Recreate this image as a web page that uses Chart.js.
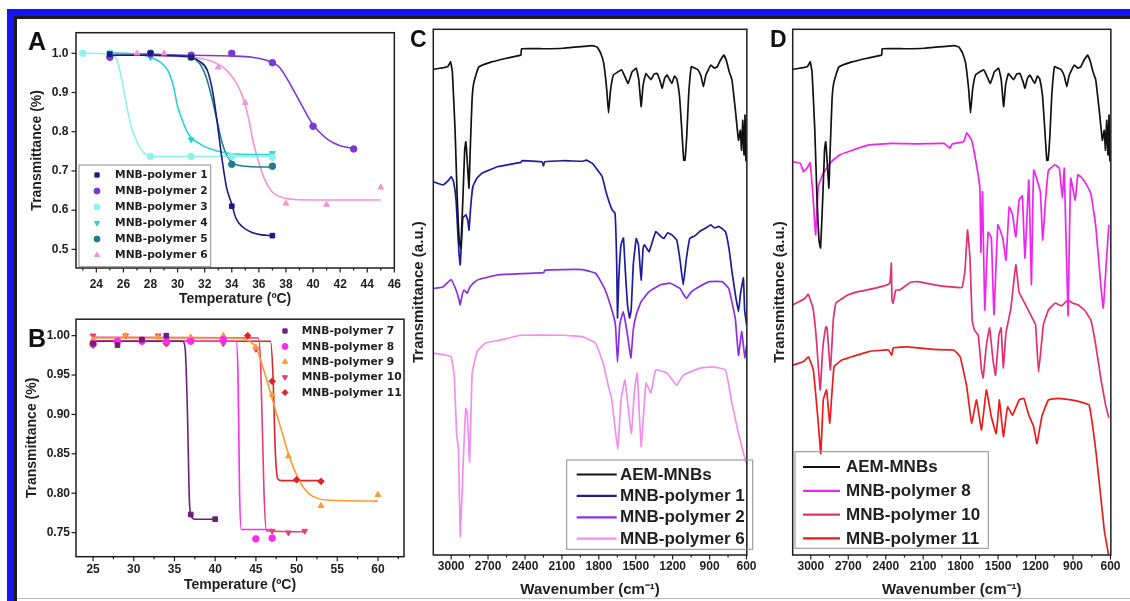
<!DOCTYPE html>
<html>
<head>
<meta charset="utf-8">
<script src="https://cdn.jsdelivr.net/npm/chart.js"></script>
<style>
  html, body { margin: 0; padding: 0; background: #fff; }
  body { width: 1130px; height: 601px; position: relative; overflow: hidden; font-family: "Liberation Sans", Arial, sans-serif; }
  .blue { position: absolute; left: 7px; top: 9px; width: 1140px; height: 610px; border-left: 7px solid #1616f5; border-top: 7px solid #1616f5; }
  .inner { position: absolute; left: 14px; top: 16px; width: 1130px; height: 600px; border-left: 3px solid #1c1c1c; border-top: 3px solid #1c1c1c; }
  .base { position: absolute; left: 17px; top: 598px; width: 1113px; height: 1px; background: #bbb; }
  canvas { position: absolute; }
  .tag { position: absolute; font: bold 25px "Liberation Sans", Arial, sans-serif; color: #111; line-height: 25px; }
</style>
</head>
<body>
<div class="blue"></div>
<div class="inner"></div>
<div class="base"></div>
<canvas id="chartA" width="395" height="292" style="left:15px;top:18px"></canvas>
<canvas id="chartB" width="395" height="295" style="left:15px;top:306px"></canvas>
<canvas id="chartC" width="356" height="581" style="left:405px;top:20px"></canvas>
<canvas id="chartD" width="361" height="581" style="left:764px;top:20px"></canvas>
<div class="tag" style="left:28px;top:29px">A</div>
<div class="tag" style="left:28px;top:326px">B</div>
<div class="tag" style="left:410px;top:27px;font-size:23px">C</div>
<div class="tag" style="left:770px;top:27px;font-size:23px">D</div>
<script>
// ---- panel A : LCST curves, polymers 1-6 ----
const p1T = [25, 28, 31, 34, 37];
const p1Y = [0.998, 1.0, 0.99, 0.61, 0.535];
const p2T = [25, 28, 31, 34, 37, 40, 43];
const p2Y = [0.99, 0.998, 0.995, 1.0, 0.976, 0.814, 0.756];
const p3T = [23, 25, 28, 31, 34, 37];
const p3Y = [1.0, 1.0, 0.737, 0.737, 0.737, 0.735];
const p4T = [25, 28, 31, 34, 37];
const p4Y = [1.0, 0.99, 0.78, 0.74, 0.745];
const p5T = [25, 28, 31, 34, 37];
const p5Y = [1.0, 1.0, 0.99, 0.717, 0.712];
const p6T = [27, 29, 31, 33, 35, 38, 41, 45];
const p6Y = [1.0, 1.0, 0.99, 0.964, 0.874, 0.617, 0.614, 0.658];

// fitted curves
const f1T = [25, 28, 30, 31, 31.6, 32.2, 32.6, 32.9, 33.2, 33.6, 34, 34.3, 34.8, 35.5, 36.2, 37];
const f1Y = [0.995, 0.995, 0.993, 0.99, 0.98, 0.956, 0.9, 0.83, 0.75, 0.66, 0.615, 0.58, 0.557, 0.543, 0.537, 0.535];
const f2T = [25, 30, 34, 35.5, 36.5, 37, 37.5, 38, 38.7, 39.2, 39.6, 40, 40.5, 41.1, 42, 43];
const f2Y = [0.995, 0.995, 0.993, 0.99, 0.983, 0.976, 0.965, 0.94, 0.897, 0.865, 0.84, 0.818, 0.798, 0.78, 0.764, 0.757];
const f3T = [23, 25, 25.5, 25.9, 26.3, 26.65, 27, 27.4, 27.8, 28.5, 30, 37];
const f3Y = [1.0, 0.998, 0.985, 0.93, 0.855, 0.805, 0.775, 0.75, 0.74, 0.737, 0.737, 0.737];
const f4T = [25, 27, 28, 28.7, 29.3, 29.7, 30, 30.4, 30.7, 31, 31.5, 32, 33, 34, 35, 37];
const f4Y = [1.0, 0.998, 0.99, 0.978, 0.955, 0.915, 0.865, 0.825, 0.8, 0.785, 0.772, 0.762, 0.75, 0.744, 0.742, 0.742];
const f5T = [25, 28, 30, 31, 31.6, 32.1, 32.5, 32.9, 33.3, 33.7, 34.2, 35, 36, 37];
const f5Y = [1.0, 0.998, 0.995, 0.99, 0.975, 0.94, 0.89, 0.83, 0.77, 0.735, 0.718, 0.712, 0.71, 0.71];
const f6T = [27, 29, 31, 32.5, 33.3, 33.9, 34.4, 34.8, 35.2, 35.6, 36, 36.3, 36.7, 37.2, 38, 38.7, 40, 45];
const f6Y = [0.995, 0.993, 0.99, 0.98, 0.966, 0.946, 0.92, 0.89, 0.84, 0.772, 0.72, 0.69, 0.66, 0.64, 0.63, 0.627, 0.626, 0.626];

// ---- panel B : polymers 7-11 ----
const p7T = [25, 28, 31, 34, 37, 40];
const p7Y = [0.99, 0.988, 0.995, 1.0, 0.773, 0.767];
const p8T = [25, 28, 31, 34, 37, 41, 45, 47];
const p8Y = [0.99, 0.993, 0.993, 0.993, 0.993, 0.995, 0.742, 0.743];
const p9T = [25, 29, 33, 37, 41, 45, 47, 49, 53, 60];
const p9Y = [0.995, 1.0, 0.998, 0.998, 1.0, 0.985, 0.925, 0.847, 0.784, 0.798];
const p10T = [25, 29, 33, 37, 41, 45, 47, 49, 51];
const p10Y = [1.0, 1.0, 1.0, 0.995, 0.99, 0.983, 0.752, 0.75, 0.752];
const p11T = [25, 31, 34, 37, 41, 44, 47, 50, 53];
const p11Y = [0.988, 0.993, 0.99, 0.995, 0.993, 1.0, 0.942, 0.817, 0.815];

const f7T = [25, 36, 36.3, 36.6, 36.8, 37, 37.5, 40];
const f7Y = [0.993, 0.993, 0.985, 0.9, 0.8, 0.772, 0.767, 0.767];
const f8T = [25, 42.6, 42.8, 43, 43.2, 47];
const f8Y = [0.993, 0.993, 0.95, 0.8, 0.754, 0.754];
const f9T = [25, 42, 44, 45, 46, 47, 48, 49, 50, 51, 52, 54, 60];
const f9Y = [0.997, 0.997, 0.994, 0.985, 0.955, 0.92, 0.885, 0.85, 0.823, 0.805, 0.796, 0.791, 0.79];
const f10T = [25, 45.3, 45.6, 46, 46.3, 51];
const f10Y = [0.998, 0.997, 0.96, 0.8, 0.752, 0.751];
const f11T = [25, 46.8, 47.1, 47.4, 47.7, 48.2, 53];
const f11Y = [0.993, 0.993, 0.95, 0.85, 0.818, 0.816, 0.816];

const tempTicksA = [24, 26, 28, 30, 32, 34, 36, 38, 40, 42, 44, 46];
const tempMinorA = [23, 25, 27, 29, 31, 33, 35, 37, 39, 41, 43, 45];
const transTicksA = [0.5, 0.6, 0.7, 0.8, 0.9, 1.0];
const tempTicksB = [25, 30, 35, 40, 45, 50, 55, 60];
const tempMinorB = [27.5, 32.5, 37.5, 42.5, 47.5, 52.5, 57.5, 62.5];
const transTicksB = [0.75, 0.8, 0.85, 0.9, 0.95, 1.0];
const wnTicks = [3000, 2700, 2400, 2100, 1800, 1500, 1200, 900, 600];
const wnMinor = [3150, 2850, 2550, 2250, 1950, 1650, 1350, 1050, 750];

// ---- FTIR spectra (wavenumber, transmittance a.u.) ----
const aemWn = [3145, 3060, 3027, 3005, 2990, 2968, 2950, 2935, 2922, 2905, 2890, 2881, 2872, 2855, 2845, 2830, 2816, 2776, 2671, 2550, 2433, 2428, 2250, 2090, 1852, 1813, 1785, 1760, 1735, 1721, 1705, 1681, 1615, 1590, 1562, 1530, 1496, 1475, 1456, 1440, 1417, 1377, 1350, 1325, 1300, 1285, 1265, 1246, 1206, 1185, 1167, 1145, 1128, 1110, 1100, 1085, 1070, 1048, 1020, 995, 970, 950, 930, 890, 860, 837, 810, 784, 760, 740, 718, 690, 665, 650, 640, 630, 620, 612, 605, 598];
const aemT = [92.4, 92.7, 92.9, 93.8, 91.9, 80.8, 67.5, 59.9, 58.4, 67.5, 77.0, 78.6, 76.1, 69.8, 77.0, 86.6, 89.8, 92.8, 93.8, 94.5, 95.1, 96.3, 96.3, 96.4, 96.9, 96.6, 95.5, 93.5, 88.4, 84.1, 88.4, 91.3, 92.3, 91.1, 89.7, 91.9, 92.6, 90.4, 85.3, 89.4, 91.6, 90.4, 91.5, 91.6, 90.0, 88.8, 90.7, 91.3, 89.7, 91.1, 90.6, 87.5, 81.7, 75.1, 75.1, 79.9, 87.5, 92.9, 92.6, 92.3, 91.1, 89.1, 91.3, 93.2, 92.6, 92.9, 94.2, 95.1, 93.8, 91.9, 90.4, 84.6, 78.9, 80.8, 77.0, 82.7, 76.1, 83.7, 75.1, 74.8];

const mp1Wn = [3145, 3066, 3020, 3000, 2980, 2960, 2945, 2935, 2926, 2915, 2905, 2895, 2880, 2865, 2855, 2840, 2823, 2790, 2750, 2618, 2433, 2425, 2260, 2250, 2240, 2090, 1931, 1900, 1852, 1810, 1773, 1745, 1721, 1690, 1668, 1655, 1648, 1638, 1620, 1600, 1585, 1567, 1550, 1537, 1520, 1496, 1478, 1456, 1440, 1430, 1391, 1338, 1300, 1272, 1240, 1206, 1167, 1140, 1114, 1090, 1061, 1020, 982, 930, 890, 860, 823, 771, 740, 718, 690, 665, 650, 625, 615, 599];
const mp1T = [71.0, 70.4, 71.3, 72.0, 71.0, 67.5, 60.9, 57.1, 55.2, 59.9, 64.1, 64.4, 64.7, 63.7, 61.8, 66.6, 70.1, 71.7, 72.6, 73.9, 74.7, 75.0, 74.8, 74.0, 74.8, 75.0, 74.9, 75.1, 74.5, 73.2, 72.0, 69.4, 67.5, 65.6, 65.0, 56.0, 45.1, 52.3, 59.0, 60.3, 54.2, 47.6, 45.1, 46.6, 55.2, 60.2, 59.0, 52.3, 58.4, 59.0, 57.7, 61.5, 60.7, 60.2, 61.3, 60.9, 59.9, 56.1, 51.4, 56.1, 60.2, 60.7, 61.5, 62.2, 62.8, 62.2, 62.5, 61.5, 58.0, 53.9, 49.5, 46.3, 49.5, 52.7, 46.6, 43.8];

const mp2Wn = [3145, 3066, 3000, 2960, 2940, 2926, 2910, 2895, 2869, 2847, 2810, 2776, 2618, 2248, 2238, 2090, 1931, 1880, 1826, 1790, 1748, 1694, 1665, 1648, 1630, 1602, 1580, 1555, 1539, 1520, 1496, 1456, 1391, 1298, 1219, 1140, 1110, 1088, 1050, 1009, 903, 798, 744, 691, 665, 639, 625, 613, 599];
const mp2T = [50.7, 51.0, 52.4, 50.4, 48.9, 47.6, 49.5, 50.4, 49.8, 51.0, 51.9, 52.4, 53.3, 53.7, 54.2, 54.3, 54.3, 54.0, 53.6, 52.3, 50.4, 46.6, 43.8, 36.7, 43.8, 46.3, 43.8, 39.9, 37.5, 42.8, 45.7, 48.2, 50.1, 51.4, 51.7, 50.7, 49.5, 48.8, 50.0, 50.7, 52.0, 52.0, 50.7, 45.0, 38.0, 42.5, 39.9, 37.4, 39.9];

const mp6Wn = [3145, 3040, 3000, 2974, 2956, 2940, 2926, 2900, 2881, 2869, 2850, 2829, 2789, 2723, 2618, 2433, 2090, 1931, 1826, 1760, 1721, 1694, 1646, 1620, 1588, 1536, 1510, 1488, 1456, 1417, 1377, 1338, 1246, 1167, 1114, 982, 877, 771, 718, 665, 617, 599];
const mp6T = [38.4, 38.0, 37.7, 33.9, 23.1, 20.0, 3.5, 18.7, 27.9, 27.0, 17.7, 34.6, 38.7, 40.3, 40.8, 41.8, 41.8, 41.5, 40.3, 36.1, 32.0, 29.5, 20.0, 29.5, 33.3, 23.1, 31.4, 34.6, 20.6, 32.7, 30.8, 35.2, 34.6, 32.3, 34.2, 35.5, 35.8, 35.2, 28.9, 23.1, 18.7, 17.4];

const mp8Wn = [3141, 3084, 3058, 3030, 3005, 2980, 2961, 2940, 2901, 2835, 2770, 2666, 2535, 2352, 2143, 1933, 1886, 1868, 1777, 1751, 1712, 1673, 1646, 1638, 1625, 1607, 1580, 1554, 1533, 1502, 1463, 1437, 1411, 1384, 1358, 1332, 1306, 1285, 1254, 1233, 1215, 1162, 1143, 1120, 1097, 1044, 1010, 985, 970, 940, 919, 882, 862, 835, 796, 757, 718, 678, 658, 631, 613];
const mp8T = [74.8, 74.5, 72.9, 73.6, 74.6, 67.5, 60.9, 70.1, 72.6, 74.8, 76.1, 77.0, 78.0, 78.3, 78.2, 78.3, 77.4, 78.2, 78.6, 80.3, 78.9, 74.2, 69.8, 57.6, 69.1, 46.6, 61.4, 60.3, 45.7, 62.8, 60.3, 56.1, 66.2, 64.7, 60.5, 67.5, 68.3, 56.5, 71.3, 51.4, 73.2, 69.1, 59.9, 67.5, 73.2, 74.2, 73.6, 67.9, 73.6, 45.5, 71.7, 67.5, 72.3, 71.9, 70.6, 68.7, 62.6, 51.4, 47.0, 56.5, 62.8];

const mp10Wn = [3141, 3047, 3021, 2982, 2955, 2925, 2905, 2880, 2870, 2843, 2820, 2799, 2700, 2600, 2472, 2368, 2355, 2350, 2341, 2320, 2289, 2200, 2143, 2012, 1882, 1790, 1765, 1745, 1725, 1708, 1690, 1659, 1633, 1620, 1594, 1568, 1541, 1521, 1494, 1476, 1458, 1437, 1398, 1358, 1332, 1280, 1227, 1200, 1176, 1137, 1097, 1044, 992, 940, 901, 862, 809, 757, 718, 678, 639, 613];
const mp10T = [47.6, 48.8, 49.6, 46.9, 40.9, 31.4, 39.0, 43.4, 43.2, 35.2, 44.7, 47.9, 49.5, 50.2, 50.8, 51.7, 55.5, 48.5, 47.9, 50.4, 50.4, 51.9, 52.0, 51.4, 51.0, 50.9, 54.2, 61.8, 56.5, 44.7, 42.8, 41.8, 35.2, 33.7, 39.9, 43.2, 37.1, 34.2, 41.8, 43.2, 35.6, 42.2, 46.9, 55.2, 50.0, 47.6, 45.1, 43.8, 34.8, 43.8, 46.6, 47.9, 47.4, 48.5, 47.9, 47.6, 46.6, 44.7, 39.9, 33.7, 28.5, 26.1];

const mp11Wn = [3141, 3058, 3019, 2980, 2940, 2920, 2900, 2874, 2848, 2814, 2750, 2535, 2378, 2352, 2340, 2220, 2012, 1856, 1804, 1751, 1712, 1673, 1633, 1594, 1554, 1515, 1489, 1458, 1424, 1385, 1332, 1294, 1254, 1215, 1189, 1150, 1097, 1020, 914, 809, 770, 718, 678, 650, 615];
const mp11T = [36.1, 36.8, 37.7, 35.2, 25.1, 19.3, 29.5, 31.4, 25.1, 35.8, 37.1, 38.7, 39.0, 38.0, 39.4, 39.6, 39.1, 39.0, 37.7, 32.0, 25.1, 29.5, 23.8, 31.4, 26.3, 23.1, 29.5, 22.5, 28.2, 26.6, 29.5, 29.8, 26.6, 24.4, 21.2, 26.3, 29.5, 29.8, 29.5, 28.9, 28.5, 20.0, 11.1, 4.8, 0];

const pts = (xs, ys) => xs.map((x, i) => ({ x: x, y: ys[i] }));

const tickFont = { family: '"Liberation Sans", Arial, sans-serif', size: 12, weight: 'bold' };
const titleFont = { family: '"Liberation Sans", Arial, sans-serif', size: 14, weight: 'bold' };
const specFont = { family: '"Liberation Sans", Arial, sans-serif', size: 15, weight: 'bold' };
const ink = '#1e1e1e';

// frame + outward ticks (major and minor)
const boxTicks = {
  id: 'boxTicks',
  afterDraw(chart, args, o) {
    const { ctx, chartArea: a, scales } = chart;
    ctx.save();
    ctx.strokeStyle = ink;
    ctx.lineWidth = 1.5;
    ctx.strokeRect(a.left, a.top, a.right - a.left, a.bottom - a.top);
    ctx.lineWidth = 1.2;
    const xt = (vals, len) => (vals || []).forEach(v => {
      const x = scales.x.getPixelForValue(v);
      if (x < a.left - 0.5 || x > a.right + 0.5) return;
      ctx.beginPath(); ctx.moveTo(x, a.bottom); ctx.lineTo(x, a.bottom + len); ctx.stroke();
    });
    const yt = (vals, len) => (vals || []).forEach(v => {
      const y = scales.y.getPixelForValue(v);
      ctx.beginPath(); ctx.moveTo(a.left, y); ctx.lineTo(a.left - len, y); ctx.stroke();
    });
    xt(o.xMajor, 4.5); xt(o.xMinor, 2.5);
    yt(o.yMajor, 4.5);
    ctx.restore();
  }
};

// legend drawn at a fixed spot, items taken from the datasets
const keyBox = {
  id: 'keyBox',
  afterDraw(chart, args, o) {
    if (!o.rows) return;
    const ctx = chart.ctx;
    const dx = chart.canvas.offsetLeft, dy = chart.canvas.offsetTop;
    ctx.save();
    if (o.box) {
      ctx.strokeStyle = '#8c8c8c'; ctx.lineWidth = 1;
      ctx.strokeRect(o.box[0] - dx, o.box[1] - dy, o.box[2] - o.box[0], o.box[3] - o.box[1]);
    }
    ctx.font = o.font;
    ctx.textBaseline = 'middle';
    o.rows.forEach((di, i) => {
      const ds = chart.data.datasets[di];
      const y = o.y + i * o.dy - dy;
      if (o.line) {
        ctx.strokeStyle = ds.borderColor; ctx.lineWidth = 2.2;
        ctx.beginPath(); ctx.moveTo(o.x0 - dx, y); ctx.lineTo(o.x1 - dx, y); ctx.stroke();
      } else {
        ctx.fillStyle = ds.backgroundColor; ctx.strokeStyle = ds.backgroundColor;
        Chart.helpers.drawPoint(ctx, { pointStyle: ds.pointStyle, rotation: ds.pointRotation || 0, radius: 3, borderWidth: 1 }, o.x0 - dx, y);
      }
      ctx.fillStyle = '#1e1e1e';
      ctx.fillText(ds.label, o.tx - dx, y + 0.5);
    });
    ctx.restore();
  }
};
Chart.register(boxTicks, keyBox);

function marks(label, xs, ys, color, style, rot) {
  return { label: label, data: pts(xs, ys), showLine: false, pointStyle: style, pointRotation: rot || 0,
    pointRadius: 3.3, backgroundColor: color, borderColor: color, borderWidth: 1 };
}
function fit(xs, ys, color) {
  return { data: pts(xs, ys), showLine: true, pointRadius: 0, borderColor: color, borderWidth: 1.6,
    cubicInterpolationMode: 'monotone', fill: false };
}
function spec(label, xs, ys, color) {
  return { label: label, data: pts(xs, ys), showLine: true, pointRadius: 0, borderColor: color,
    backgroundColor: color, borderWidth: 1.7, tension: 0.1, fill: false };
}

function baseOptions(cfg) {
  return {
    responsive: false, animation: false, events: [],
    layout: { padding: { left: 0, top: cfg.top, right: cfg.right, bottom: 0 } },
    plugins: { legend: { display: false }, tooltip: { enabled: false }, boxTicks: cfg.ticks, keyBox: cfg.key },
    scales: {
      x: {
        type: 'linear', min: cfg.xMin, max: cfg.xMax, reverse: !!cfg.reverse,
        afterBuildTicks: s => { s.ticks = cfg.xTicks.map(v => ({ value: v })); },
        afterFit: s => { s.height = cfg.xH; },
        grid: { display: false, drawTicks: false }, border: { display: false },
        ticks: { font: cfg.tickFont || tickFont, color: ink, padding: cfg.xPad, maxRotation: 0, autoSkip: false,
          callback: v => String(v) },
        title: { display: true, text: cfg.xTitle, font: cfg.titleFont || titleFont, color: ink, padding: { top: 0, bottom: cfg.xTitlePad } }
      },
      y: {
        type: 'linear', min: cfg.yMin, max: cfg.yMax,
        afterBuildTicks: s => { s.ticks = (cfg.yTicks || []).map(v => ({ value: v })); },
        afterFit: s => { s.width = cfg.yW; },
        grid: { display: false, drawTicks: false }, border: { display: false },
        ticks: { display: !!cfg.yTicks, font: tickFont, color: ink, padding: cfg.yPad,
          callback: v => v.toFixed(cfg.yDec || 0) },
        title: { display: true, text: cfg.yTitle, font: cfg.titleFont || titleFont, color: ink, padding: { top: cfg.yTitlePad, bottom: 0 } }
      }
    }
  };
}

const cA = ['#1b1b84', '#7b38d4', '#8cf2ec', '#27d2d6', '#1f7d8e', '#f494cc'];
new Chart(document.getElementById('chartA'), {
  type: 'scatter',
  data: {
    datasets: [
      marks('MNB-polymer 1', p1T, p1Y, cA[0], 'rect'),
      marks('MNB-polymer 2', p2T, p2Y, cA[1], 'circle'),
      marks('MNB-polymer 3', p3T, p3Y, cA[2], 'circle'),
      marks('MNB-polymer 4', p4T, p4Y, cA[3], 'triangle', 180),
      marks('MNB-polymer 5', p5T, p5Y, cA[4], 'circle'),
      marks('MNB-polymer 6', p6T, p6Y, cA[5], 'triangle'),
      fit(f1T, f1Y, cA[0]), fit(f2T, f2Y, cA[1]), fit(f3T, f3Y, cA[2]),
      fit(f4T, f4Y, cA[3]), fit(f5T, f5Y, cA[4]), fit(f6T, f6Y, cA[5])
    ]
  },
  options: baseOptions({
    top: 10, right: 7.3, xH: 42, yW: 61, xMin: 22.5, xMax: 46, yMin: 0.4525, yMax: 1.0525,
    xTicks: tempTicksA, yTicks: transTicksA, yDec: 1, xPad: 9, yPad: 7.5,
    xTitle: 'Temperature (ºC)', yTitle: 'Transmittance (%)', xTitlePad: 2.5, yTitlePad: 13.3,
    ticks: { xMajor: tempTicksA, xMinor: tempMinorA, yMajor: transTicksA },
    key: { rows: [0, 1, 2, 3, 4, 5], box: [79, 165, 210.7, 266.7], x0: 97, tx: 115, y: 175, dy: 16,
      font: 'bold 10.7px "DejaVu Sans", sans-serif' }
  })
});

const cB = ['#6c1f78', '#fb2cf0', '#ff9a2e', '#ea3c7c', '#e4222a'];
new Chart(document.getElementById('chartB'), {
  type: 'scatter',
  data: {
    datasets: [
      marks('MNB-polymer 7', p7T, p7Y, cB[0], 'rect'),
      marks('MNB-polymer 8', p8T, p8Y, cB[1], 'circle'),
      marks('MNB-polymer 9', p9T, p9Y, cB[2], 'triangle'),
      marks('MNB-polymer 10', p10T, p10Y, cB[3], 'triangle', 180),
      marks('MNB-polymer 11', p11T, p11Y, cB[4], 'rectRot'),
      fit(f7T, f7Y, cB[0]), fit(f8T, f8Y, cB[1]), fit(f9T, f9Y, cB[2]),
      fit(f10T, f10Y, cB[3]), fit(f11T, f11Y, cB[4])
    ]
  },
  options: baseOptions({
    top: 10, right: 6, xH: 44.3, yW: 61, xMin: 22.9, xMax: 63.2, yMin: 0.7194, yMax: 1.0209,
    xTicks: tempTicksB, yTicks: transTicksB, yDec: 2, xPad: 6, yPad: 6,
    xTitle: 'Temperature (ºC)', yTitle: 'Transmittance (%)', xTitlePad: 7.6, yTitlePad: 8.3,
    ticks: { xMajor: tempTicksB, xMinor: tempMinorB, yMajor: transTicksB },
    key: { rows: [0, 1, 2, 3, 4], x0: 285, tx: 301.7, y: 331, dy: 15.4,
      font: 'bold 10.7px "DejaVu Sans", sans-serif' }
  })
});

const specOpts = (yW, right, yTitlePad, key) => baseOptions({
  top: 9.3, right: right, xH: 46, yW: yW, xMin: 597, xMax: 3145, reverse: true, yMin: 0, yMax: 100,
  xTicks: wnTicks, xPad: 4.5, xTitle: 'Wavenumber (cm⁻¹)', yTitle: 'Transmittance (a.u.)',
  xTitlePad: 2, yTitlePad: yTitlePad, titleFont: specFont,
  ticks: { xMajor: wnTicks, xMinor: wnMinor }, key: key
});

new Chart(document.getElementById('chartC'), {
  type: 'scatter',
  data: {
    datasets: [
      spec('AEM-MNBs', aemWn, aemT, '#111111'),
      spec('MNB-polymer 1', mp1Wn, mp1T, '#1c1c9c'),
      spec('MNB-polymer 2', mp2Wn, mp2T, '#8a2fe6'),
      spec('MNB-polymer 6', mp6Wn, mp6T, '#f28ef0')
    ]
  },
  options: specOpts(28.3, 5, 5, { rows: [0, 1, 2, 3], line: true, box: [566.7, 460, 752.7, 549.3],
    x0: 576.7, x1: 616.7, tx: 620, y: 474.5, dy: 21.4, font: 'bold 17px "Liberation Sans", Arial, sans-serif' })
});

new Chart(document.getElementById('chartD'), {
  type: 'scatter',
  data: {
    datasets: [
      spec('AEM-MNBs', aemWn, aemT, '#111111'),
      spec('MNB-polymer 8', mp8Wn, mp8T, '#f024f0'),
      spec('MNB-polymer 10', mp10Wn, mp10T, '#e3306f'),
      spec('MNB-polymer 11', mp11Wn, mp11T, '#ec1c1c')
    ]
  },
  options: specOpts(28.7, 7.7, 7, { rows: [0, 1, 2, 3], line: true, box: [795, 451.7, 988.3, 548.3],
    x0: 803, x1: 840, tx: 846, y: 467, dy: 23.8, font: 'bold 17px "Liberation Sans", Arial, sans-serif' })
});
</script>
</body>
</html>
